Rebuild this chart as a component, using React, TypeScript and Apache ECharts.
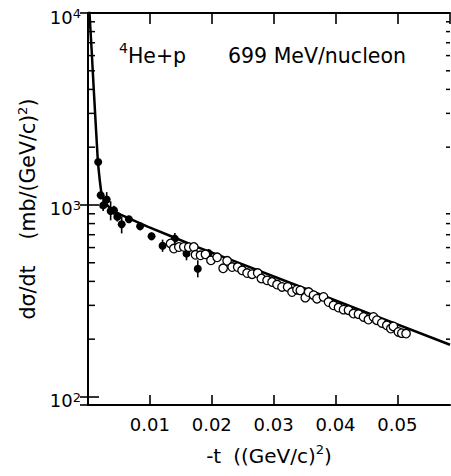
import React, { useEffect, useRef } from "react";
import * as echarts from "echarts";

const X_MIN = 0;
const X_MAX = 0.0585;
const Y_MIN = 90.8;
const Y_MAX = 10000;
const X_STEP = 0.01;
const yMinorTicks = [200, 300, 400, 500, 600, 700, 800, 900, 2000, 3000, 4000, 5000, 6000, 7000, 8000, 9000];

// fitted curve
const curveT = [0.00022, 0.00024, 0.000587, 0.000935, 0.0013, 0.00161, 0.00189, 0.00213, 0.00253, 0.00318, 0.00415, 0.00527, 0.00689, 0.00963, 0.01382, 0.01769, 0.02302, 0.0343, 0.0456, 0.0585];
const curveY = [10400, 10000, 6420, 3980, 2460, 1658, 1357, 1172, 1065, 991, 933, 890, 843, 771, 679, 603, 519, 375, 271, 187];

// filled points with error bars
const filledT = [0.00165, 0.00205, 0.00245, 0.00302, 0.00366, 0.00419, 0.00474, 0.00544, 0.00661, 0.00842, 0.01027, 0.01205, 0.01403, 0.01592, 0.01774, 0.0195];
const filledY = [1675, 1123, 995, 1067, 931, 938, 868, 793, 842, 774, 687, 613, 668, 558, 465, 560];
const filledLo = [1600, 1070, 930, 975, 832, 890, 820, 711, 805, 740, 655, 570, 620, 515, 420, 530];
const filledHi = [1760, 1180, 1065, 1167, 1045, 990, 920, 871, 880, 810, 720, 660, 715, 605, 515, 590];

// open points
const openT = [0.01334, 0.01387, 0.01468, 0.01548, 0.01629, 0.0171, 0.01737, 0.01818, 0.01898, 0.01987, 0.02087, 0.02184, 0.02248, 0.02329, 0.02419, 0.0249, 0.02571, 0.02652, 0.02742, 0.02802, 0.02894, 0.02974, 0.03055, 0.03135, 0.03226, 0.03297, 0.03377, 0.03431, 0.03511, 0.03565, 0.03645, 0.037, 0.03806, 0.03887, 0.03968, 0.04048, 0.04129, 0.0421, 0.0429, 0.04371, 0.04452, 0.04532, 0.04613, 0.04668, 0.04748, 0.04829, 0.04894, 0.04935, 0.05016, 0.05071, 0.0514];
const openY = [630, 593, 604, 605, 603, 604, 550, 547, 553, 515, 534, 468, 512, 475, 475, 457, 442, 436, 442, 414, 405, 397, 385, 374, 374, 352, 362, 359, 329, 352, 339, 325, 332, 312, 300, 292, 285, 283, 272, 270, 261, 253, 261, 251, 243, 236, 227, 233, 218, 215, 214];

const FONT = "'DejaVu Sans', sans-serif";

export default function App() {
  const ref = useRef<HTMLDivElement>(null);
  useEffect(() => {
    const chart = echarts.init(ref.current!, null, { renderer: "svg" });
    const axisLine = { show: true, lineStyle: { color: "#000", width: 2 } };
    const option: any = {
      animation: false,
      grid: { left: 88, right: 1, top: 12, bottom: 71, containLabel: false },
      xAxis: [
        {
          type: "value",
          min: X_MIN,
          max: X_MAX,
          interval: X_STEP,
          position: "bottom",
          axisLine,
          axisTick: { show: true, inside: true, length: 10, lineStyle: { color: "#000", width: 1.6 } },
          splitLine: { show: false },
          axisLabel: {
            show: true,
            showMinLabel: false,
            showMaxLabel: false,
            margin: 10,
            color: "#000",
            fontSize: 18,
            fontFamily: FONT,
            formatter: (v: number) => v.toFixed(2),
          },
          name: "{a|-t}{w| }{a|((GeV/c)}{s|2}{a|)}",
          nameLocation: "middle",
          nameGap: 38,
          nameTextStyle: {
            rich: {
              a: { fontSize: 20, lineHeight: 20, fontFamily: FONT, color: "#000", padding: [5, 0, 0, 0] },
              w: { fontSize: 20, lineHeight: 20, width: 12, fontFamily: FONT },
              s: { fontSize: 13, lineHeight: 13, fontFamily: FONT, color: "#000", verticalAlign: "top" },
            },
          },
        },
        {
          type: "value",
          min: X_MIN,
          max: X_MAX,
          interval: X_STEP,
          position: "top",
          axisLine,
          axisTick: { show: true, inside: true, length: 11, lineStyle: { color: "#000", width: 1.6 } },
          axisLabel: { show: false },
          splitLine: { show: false },
        },
      ],
      yAxis: [
        {
          type: "log",
          logBase: 10,
          min: Y_MIN,
          max: Y_MAX,
          position: "left",
          axisLine,
          axisTick: { show: true, inside: true, length: 11, lineStyle: { color: "#000", width: 1.6 } },
          splitLine: { show: false },
          axisLabel: {
            show: true,
            showMinLabel: false,
            margin: 7,
            color: "#000",
            formatter: (v: number) => {
              const e = Math.log10(v);
              if (Math.abs(e - Math.round(e)) > 1e-6) return "";
              return `{b|10}{s|${Math.round(e)}}`;
            },
            rich: {
              b: { fontSize: 18, lineHeight: 18, fontFamily: FONT, color: "#000", padding: [8, 0, 0, 0] },
              s: { fontSize: 13, lineHeight: 13, fontFamily: FONT, color: "#000", verticalAlign: "top", padding: [3, 0, 0, 0] },
            },
          },
          name: "{a|dσ/dt}{w| }{a|(mb/(GeV/c)}{s|2}{a|)}",
          nameLocation: "middle",
          nameRotate: 90,
          nameGap: 48,
          nameTextStyle: {
            rich: {
              a: { fontSize: 20.5, lineHeight: 20, fontFamily: FONT, color: "#000", padding: [5, 0, 0, 0] },
              w: { fontSize: 20, lineHeight: 20, width: 26, fontFamily: FONT },
              s: { fontSize: 13, lineHeight: 13, fontFamily: FONT, color: "#000", verticalAlign: "top" },
            },
          },
        },
        {
          type: "log",
          logBase: 10,
          min: Y_MIN,
          max: Y_MAX,
          position: "right",
          axisLine,
          axisTick: { show: true, inside: true, length: 8, lineStyle: { color: "#000", width: 1.6 } },
          axisLabel: { show: false },
          splitLine: { show: false },
        },
      ],
      graphic: [
        {
          type: "text",
          left: 119,
          top: 36,
          style: {
            text: "{s|4}{a|He+p}",
            rich: {
              s: { fontSize: 14, lineHeight: 14, fontFamily: FONT, fill: "#000", verticalAlign: "top" },
              a: { fontSize: 20.5, lineHeight: 20.5, fontFamily: FONT, fill: "#000", padding: [9, 0, 0, 0] },
            },
          },
        },
        {
          type: "text",
          left: 228,
          top: 45,
          style: { text: "699 MeV/nucleon", fontSize: 20.5, fontFamily: FONT, fill: "#000" },
        },
      ],
      series: [
        {
          type: "custom",
          name: "minorTicks",
          xAxisIndex: 0,
          yAxisIndex: 0,
          silent: true,
          data: yMinorTicks.map((v) => [X_MIN, v]),
          renderItem: (params: any, api: any) => {
            const v = api.value(1);
            const pl = api.coord([X_MIN, v]);
            const pr = api.coord([X_MAX, v]);
            return {
              type: "group",
              children: [
                { type: "line", shape: { x1: pl[0], y1: pl[1], x2: pl[0] + 7, y2: pl[1] }, style: { stroke: "#000", lineWidth: 1.5 } },
                { type: "line", shape: { x1: pr[0] - 4, y1: pr[1], x2: pr[0], y2: pr[1] }, style: { stroke: "#000", lineWidth: 1.5 } },
              ],
            };
          },
          z: 1,
        },
        {
          type: "line",
          name: "fit",
          data: curveT.map((t, i) => [t, curveY[i]]),
          showSymbol: false,
          smooth: false,
          lineStyle: { color: "#000", width: 2.5, join: "round" },
          z: 2,
        },
        {
          type: "custom",
          name: "errors",
          data: filledT.map((t, i) => [t, filledLo[i], filledHi[i]]),
          encode: { x: 0, y: [1, 2] },
          renderItem: (params: any, api: any) => {
            const t = api.value(0);
            const p1 = api.coord([t, api.value(1)]);
            const p2 = api.coord([t, api.value(2)]);
            return { type: "line", shape: { x1: p1[0], y1: p1[1], x2: p2[0], y2: p2[1] }, style: { stroke: "#000", lineWidth: 1.6 } };
          },
          z: 3,
        },
        {
          type: "scatter",
          name: "filled",
          data: filledT.map((t, i) => [t, filledY[i]]),
          symbol: "circle",
          symbolSize: 8,
          itemStyle: { color: "#000", opacity: 1 },
          z: 4,
        },
        {
          type: "scatter",
          name: "open",
          data: openT.map((t, i) => [t, openY[i]]),
          symbol: "circle",
          symbolSize: 8.5,
          itemStyle: { color: "#fff", borderColor: "#000", borderWidth: 1.3, opacity: 1 },
          z: 5,
        },
      ],
    };
    chart.setOption(option);
    return () => chart.dispose();
  }, []);
  return <div ref={ref} style={{ position: "absolute", left: 0, top: 0, width: 451, height: 476 }} />;
}
